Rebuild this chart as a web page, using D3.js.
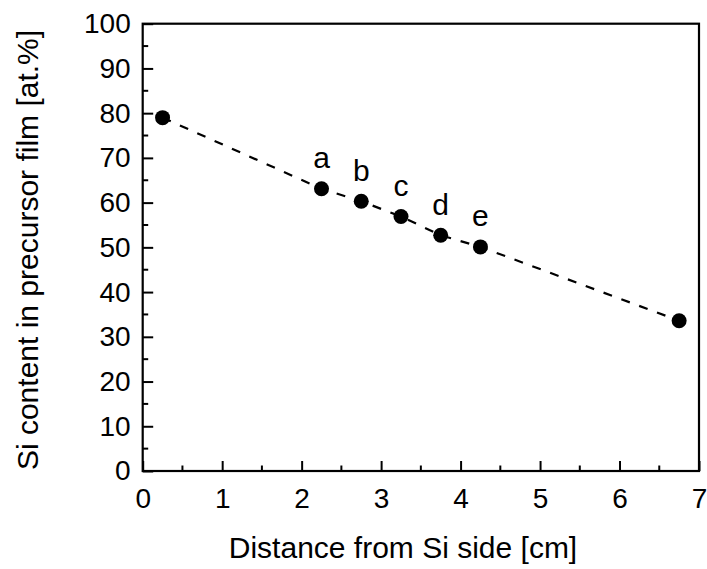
<!DOCTYPE html>
<html>
<head>
<meta charset="utf-8">
<script src="https://cdn.jsdelivr.net/npm/d3@7"></script>
<style>
  html, body { margin: 0; padding: 0; background: #fff; }
  svg { display: block; }
  text { font-family: Arial, "Liberation Sans", sans-serif; fill: #000; }
</style>
</head>
<body>
<svg id="chart" width="707" height="569"></svg>
<script>
// Measured samples along the film
const distance = [0.25, 2.25, 2.75, 3.25, 3.75, 4.25, 6.75];
const siContent = [79.0, 63.1, 60.3, 56.9, 52.7, 50.1, 33.6];
const pointLabels = ["", "a", "b", "c", "d", "e", ""];

const xTicks = [0, 1, 2, 3, 4, 5, 6, 7];
const yTicks = [0, 10, 20, 30, 40, 50, 60, 70, 80, 90, 100];

const margin = { left: 142.7, right: 8, top: 23.7, bottom: 98 };
const W = 707, H = 569;
const FONT = "Arial, 'Liberation Sans', sans-serif";

const svg = d3.select("#chart");
const x = d3.scaleLinear().domain([0, 7]).range([margin.left, W - margin.right]);
const y = d3.scaleLinear().domain([0, 100]).range([H - margin.bottom, margin.top]);

const tickFont = 28;
const titleFont = 30;
const letterFont = 30;

// Minor ticks (inward), halfway between majors
const xMinor = d3.range(0.5, 7, 1);
const yMinor = d3.range(5, 100, 10);

const axisG = svg.append("g");

// Bottom axis
const bottom = axisG.append("g").attr("transform", `translate(0,${y(0)})`)
  .call(d3.axisBottom(x).tickValues(xTicks).tickSizeInner(-10).tickSizeOuter(0).tickPadding(17).tickFormat(d3.format("d")));
bottom.selectAll(".tick text").attr("font-size", tickFont).attr("dy", "0.71em").attr("font-family", FONT);
bottom.selectAll(".tick line").attr("stroke-width", 2);
bottom.select(".domain").remove();
axisG.append("g").selectAll("line").data(xMinor).join("line")
  .attr("x1", d => x(d)).attr("x2", d => x(d))
  .attr("y1", y(0)).attr("y2", y(0) - 5.5)
  .attr("stroke", "#000").attr("stroke-width", 2);

// Left axis
const left = axisG.append("g").attr("transform", `translate(${x(0)},0)`)
  .call(d3.axisLeft(y).tickValues(yTicks).tickSizeInner(-10.5).tickSizeOuter(0).tickPadding(12).tickFormat(d3.format("d")));
left.selectAll(".tick text").attr("font-size", tickFont).attr("dy", "0.32em").attr("font-family", FONT);
left.selectAll(".tick line").attr("stroke-width", 2);
left.select(".domain").remove();
axisG.append("g").selectAll("line").data(yMinor).join("line")
  .attr("x1", x(0)).attr("x2", x(0) + 5.5)
  .attr("y1", d => y(d)).attr("y2", d => y(d))
  .attr("stroke", "#000").attr("stroke-width", 2);

// Frame
svg.append("rect")
  .attr("x", x(0)).attr("y", y(100))
  .attr("width", x(7) - x(0)).attr("height", y(0) - y(100))
  .attr("fill", "none").attr("stroke", "#000").attr("stroke-width", 2.2);

// Dashed connecting line
const line = d3.line().x((d, i) => x(distance[i])).y((d, i) => y(siContent[i]));
svg.append("path")
  .datum(siContent)
  .attr("d", line)
  .attr("fill", "none")
  .attr("stroke", "#000")
  .attr("stroke-width", 2.2)
  .attr("stroke-dasharray", "9,10");

// Points
svg.append("g").selectAll("circle").data(siContent).join("circle")
  .attr("cx", (d, i) => x(distance[i]))
  .attr("cy", d => y(d))
  .attr("r", 7.5)
  .attr("fill", "#000");

// Point letters
svg.append("g").selectAll("text").data(pointLabels).join("text")
  .attr("x", (d, i) => x(distance[i]))
  .attr("y", (d, i) => y(siContent[i]) - 20.5)
  .attr("text-anchor", "middle")
  .attr("font-size", letterFont)
  .text(d => d);

// Axis titles
svg.append("text")
  .attr("x", 403)
  .attr("y", 558)
  .attr("text-anchor", "middle")
  .attr("font-size", titleFont)
  .text("Distance from Si side [cm]");

svg.append("text")
  .attr("transform", `translate(38,250) rotate(-90)`)
  .attr("text-anchor", "middle")
  .attr("font-size", titleFont)
  .text("Si content in precursor film [at.%]");
</script>
</body>
</html>
